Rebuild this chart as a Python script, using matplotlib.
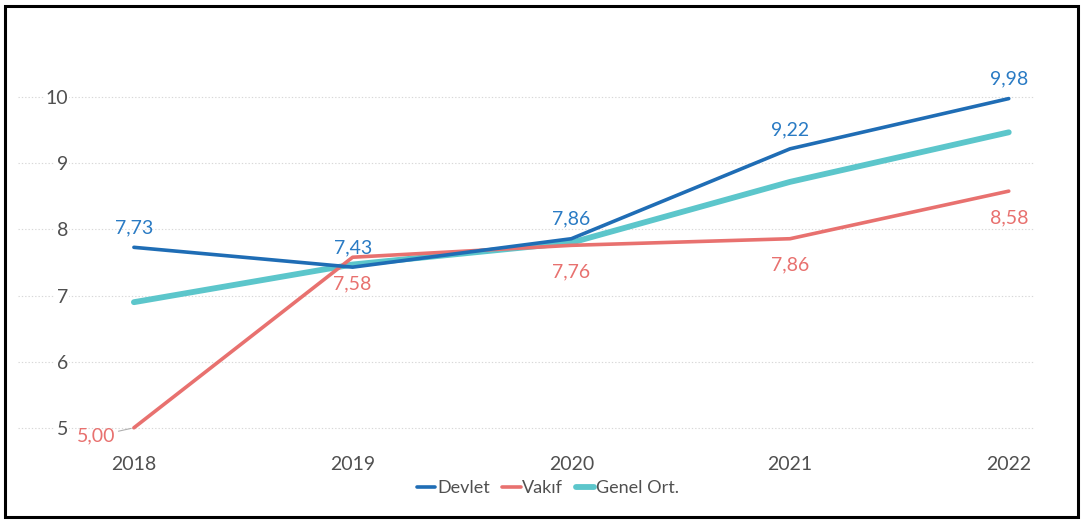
import matplotlib
matplotlib.use("Agg")
import matplotlib.pyplot as plt
from matplotlib.patches import Rectangle

plt.rcParams['font.family'] = ['Lato', 'DejaVu Sans']

YEARS = [2018, 2019, 2020, 2021, 2022]
DEVLET = [7.73, 7.43, 7.86, 9.22, 9.98]
VAKIF = [5.00, 7.58, 7.76, 7.86, 8.58]
GENEL = [6.90, 7.47, 7.80, 8.72, 9.47]
Y_TICKS = [5, 6, 7, 8, 9, 10]

C_DEVLET = "#1F6DB5"
C_VAKIF = "#E8716F"
C_GENEL = "#5CC6CB"
C_DEVLET_TXT = "#2A7BC4"
C_VAKIF_TXT = "#E8716F"
C_TEXT = "#505050"


def fmt(v):
    return f"{v:.2f}".replace(".", ",")


fig = plt.figure(figsize=(10.86, 5.24), dpi=100)
ax = fig.add_axes([18 / 1086, 1 - 441 / 524, (1035 - 18) / 1086, (441 - 51) / 524])

ax.plot(YEARS, DEVLET, color=C_DEVLET, lw=2.6, label="Devlet", zorder=4, solid_capstyle="round")
ax.plot(YEARS, VAKIF, color=C_VAKIF, lw=2.6, label="Vakıf", zorder=3, solid_capstyle="round")
ax.plot(YEARS, GENEL, color=C_GENEL, lw=4.2, label="Genel Ort.", zorder=2, solid_capstyle="round")

ax.set_xlim(2017.47, 2022.12)
ax.set_ylim(4.8, 10.7)
ax.set_xticks(YEARS)
ax.set_yticks(Y_TICKS)
ax.grid(axis="y", color="#d8d8d8", lw=0.8, ls=(0, (1.2, 1.8)), zorder=0)
ax.set_axisbelow(True)
for s in ax.spines.values():
    s.set_visible(False)
ax.tick_params(axis="both", length=0, labelsize=14, colors=C_TEXT)
ax.tick_params(axis="x", pad=11)
ax.tick_params(axis="y", pad=-36)
for lab in ax.get_yticklabels():
    lab.set_bbox(dict(facecolor="white", edgecolor="none", pad=1))

# Devlet labels above
for x, v in zip(YEARS, DEVLET):
    ax.annotate(fmt(v), (x, v), xytext=(0, 14), textcoords="offset points",
                ha="center", va="center", fontsize=14, color=C_DEVLET_TXT, zorder=6)

# Vakif labels below (first to the left with a leader)
for i, (x, v) in enumerate(zip(YEARS, VAKIF)):
    if i == 0:
        ax.annotate(fmt(v), (x, v), xytext=(-27, -6), textcoords="offset points",
                    ha="center", va="center", fontsize=14, color=C_VAKIF_TXT, zorder=6,
                    arrowprops=dict(arrowstyle="-", color="#b0b0b0", lw=0.8,
                                    shrinkA=15, shrinkB=2))
    else:
        ax.annotate(fmt(v), (x, v), xytext=(0, -19), textcoords="offset points",
                    ha="center", va="center", fontsize=14, color=C_VAKIF_TXT, zorder=6)

fig.legend(loc="center", bbox_to_anchor=(548 / 1086, 1 - 488 / 524), ncol=3,
           frameon=False, fontsize=13, handlelength=1.0, handletextpad=0.1,
           columnspacing=0.7, labelcolor=C_TEXT)

fig.patches.append(Rectangle((5 / 1086, 7 / 524), 1073 / 1086, 511 / 524,
                             transform=fig.transFigure, fill=False,
                             edgecolor="black", lw=2.2))

fig.savefig("out.png", dpi=100)
